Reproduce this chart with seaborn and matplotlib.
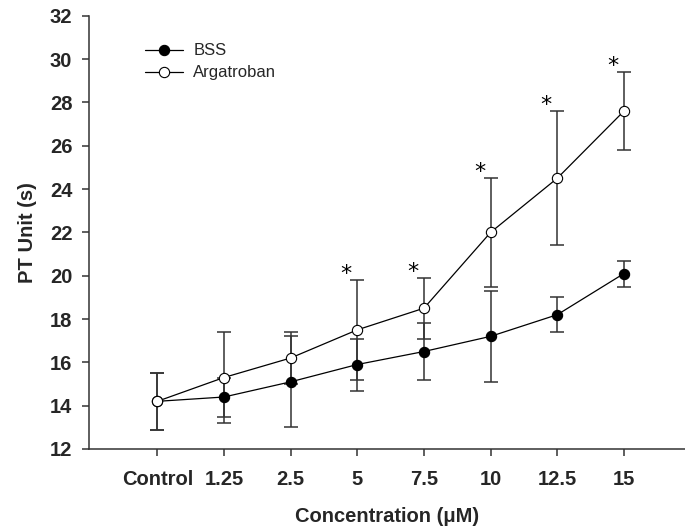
import numpy as np
import pandas as pd
import matplotlib
matplotlib.use("Agg")
import matplotlib.pyplot as plt
import seaborn as sns

# ---- data ----
categories = ["Control", "1.25", "2.5", "5", "7.5", "10", "12.5", "15"]
bss_mean = [14.2, 14.4, 15.1, 15.9, 16.5, 17.2, 18.2, 20.1]
bss_sd = [1.3, 0.9, 2.1, 1.2, 1.3, 2.1, 0.8, 0.6]
arg_mean = [14.2, 15.3, 16.2, 17.5, 18.5, 22.0, 24.5, 27.6]
arg_sd = [1.3, 2.1, 1.2, 2.3, 1.4, 2.5, 3.1, 1.8]
significant = ["5", "7.5", "10", "12.5", "15"]
y_ticks = [12, 14, 16, 18, 20, 22, 24, 26, 28, 30, 32]

sns.set_style("ticks")
plt.rcParams["font.family"] = ["Liberation Sans", "DejaVu Sans"]

fig = plt.figure(figsize=(6.85, 5.32), dpi=100)
ax = fig.add_axes([89 / 685, 1 - 449 / 532, 596 / 685, (449 - 15.7) / 532])

df = pd.DataFrame({
    "conc": categories * 2,
    "pt": bss_mean + arg_mean,
    "sd": bss_sd + arg_sd,
    "group": ["BSS"] * len(categories) + ["Argatroban"] * len(categories),
})

xpos = np.arange(len(categories))
err_kw = dict(fmt="none", ecolor="#333333", elinewidth=1.1, capsize=4.8,
              capthick=1.1, zorder=1.5)
ax.errorbar(xpos, bss_mean, yerr=bss_sd, **err_kw)
ax.errorbar(xpos, arg_mean, yerr=arg_sd, **err_kw)

d_bss = df[df.group == "BSS"]
d_arg = df[df.group == "Argatroban"]
sns.lineplot(data=d_bss, x="conc", y="pt", ax=ax, color="black", linewidth=0.9,
             marker="o", markersize=7.4, markerfacecolor="black",
             markeredgecolor="black", markeredgewidth=0.8, label="BSS",
             zorder=2, sort=False)
sns.lineplot(data=d_arg, x="conc", y="pt", ax=ax, color="black", linewidth=0.9,
             marker="o", markersize=7.4, markerfacecolor="white",
             markeredgecolor="black", markeredgewidth=0.8, label="Argatroban",
             zorder=3, sort=False)

# significance stars
for i, c in enumerate(categories):
    if c in significant:
        top = arg_mean[i] + arg_sd[i]
        ax.annotate("*", xy=(i, top), xytext=(-11, 0), textcoords="offset pixels",
                    ha="center", va="baseline", fontsize=16,
                    family=["DejaVu Sans"], color="black")

ax.set_xlim(-1.024, 7.915)
ax.set_ylim(12, 32)
ax.set_yticks(y_ticks)
ax.set_xticks(xpos)
ax.set_xticklabels(categories)
sns.despine(ax=ax)
for s in ("left", "bottom"):
    ax.spines[s].set_linewidth(1.1)
    ax.spines[s].set_color("#333333")

ax.tick_params(axis="both", direction="out", length=5, width=1.1, color="#333333",
               labelsize=14.5)
ax.tick_params(axis="y", pad=7)
ax.tick_params(axis="x", pad=10)
for lbl in ax.get_xticklabels() + ax.get_yticklabels():
    lbl.set_fontweight("bold")

ax.set_xlabel("Concentration (\u03bcM)", fontsize=14.5, fontweight="bold", labelpad=13)
ax.set_ylabel("PT Unit (s)", fontsize=14.5, fontweight="bold", labelpad=9)

leg = ax.legend(loc="upper left", bbox_to_anchor=(0.094, 0.936), frameon=False,
                fontsize=12, handlelength=2.3, handletextpad=0.6,
                labelspacing=0.42, borderpad=0, borderaxespad=0, numpoints=1)

fig.savefig("out.png", dpi=100)
